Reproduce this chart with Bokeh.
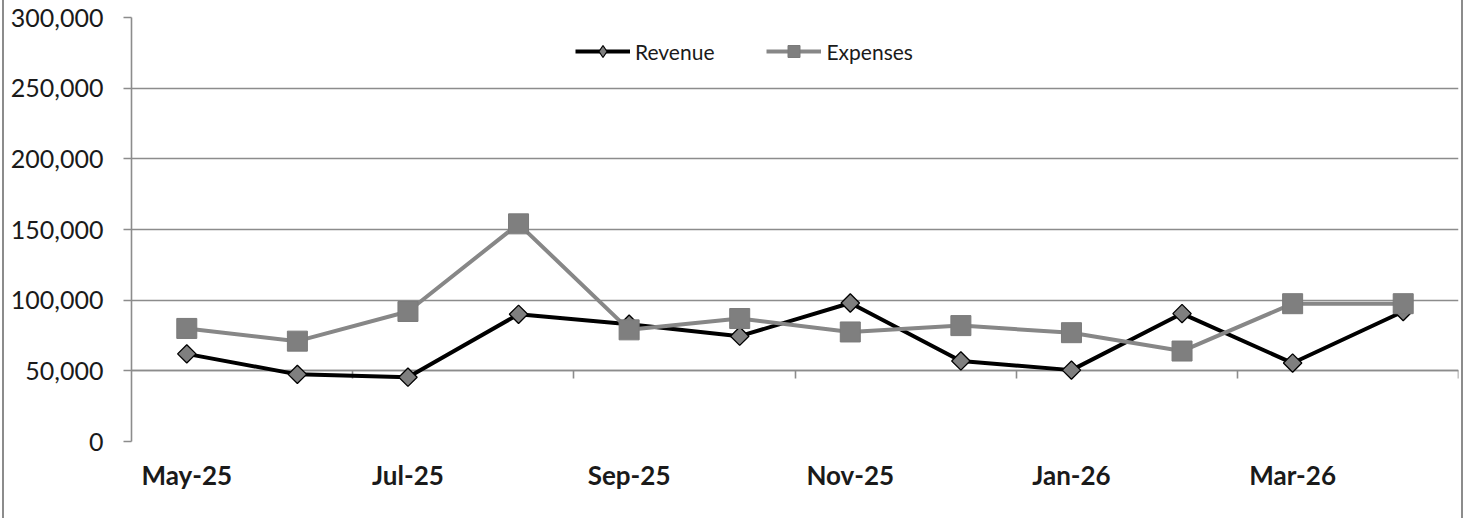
import math
from bokeh.plotting import figure
from bokeh.models import (Range1d, LinearAxis, FixedTicker, NumeralTickFormatter,
                          Legend, LegendItem, ColumnDataSource)
from bokeh.embed import file_html
from bokeh.resources import INLINE

# ---- data ----
months = ["May-25", "Jun-25", "Jul-25", "Aug-25", "Sep-25", "Oct-25",
          "Nov-25", "Dec-25", "Jan-26", "Feb-26", "Mar-26", "Apr-26"]
revenue = [62000, 47500, 45500, 90000, 83000, 74500,
           98000, 57000, 50500, 90500, 55500, 92000]
expenses = [80000, 71000, 92000, 154000, 79000, 87000,
            77500, 82000, 77000, 64000, 97500, 97500]
y_ticks = [0, 50000, 100000, 150000, 200000, 250000, 300000]
y_max = 300000
axis_cross = 50000

GRID = "#8c8c8c"
FONT = "Lato"

xpos = [i + 0.5 for i in range(len(months))]
src = ColumnDataSource(dict(x=xpos, rev=revenue, exp=expenses, m=months))

p = figure(width=1457, height=518,
           x_range=Range1d(0, len(months)), y_range=Range1d(0, y_max),
           output_backend="svg", toolbar_location=None,
           min_border_left=127, min_border_right=7,
           min_border_top=17, min_border_bottom=77,
           styles={"position": "absolute", "left": "2px", "top": "0px",
                   "box-sizing": "content-box",
                   "border-left": "2px solid #8c8c8c",
                   "border-right": "2px solid #8c8c8c"})
p.outline_line_color = None
p.background_fill_color = "white"
p.border_fill_color = "white"

# grid
p.xgrid.visible = False
p.ygrid.ticker = FixedTicker(ticks=y_ticks)
p.ygrid.grid_line_color = GRID
p.ygrid.grid_line_width = 1.6

# y axis
p.yaxis.ticker = FixedTicker(ticks=y_ticks)
p.yaxis.formatter = NumeralTickFormatter(format="0,0")
p.yaxis.axis_line_color = GRID
p.yaxis.axis_line_width = 1.6
p.yaxis.major_tick_line_color = GRID
p.yaxis.major_tick_line_width = 1.6
p.yaxis.major_tick_out = 8
p.yaxis.major_tick_in = 0
p.yaxis.minor_tick_line_color = None
p.yaxis.major_label_standoff = 20
p.yaxis.major_label_text_font = FONT
p.yaxis.major_label_text_font_size = "25px"
p.yaxis.major_label_text_color = "#1a1a1a"

# x axis (labels only)
xa = p.xaxis[0]
label_idx = list(range(0, len(months), 2))
xa.ticker = FixedTicker(ticks=[xpos[i] for i in label_idx])
xa.major_label_overrides = {xpos[i]: months[i] for i in label_idx}
xa.axis_line_color = None
xa.major_tick_line_color = None
xa.minor_tick_line_color = None
xa.major_tick_out = 0
xa.major_label_standoff = 17
xa.major_label_text_font = FONT
xa.major_label_text_font_style = "bold"
xa.major_label_text_font_size = "26px"
xa.major_label_text_color = "#1a1a1a"

# category axis crossing at 50,000 with boundary ticks
bound_ticks = [float(i) for i in range(2, len(months) + 1, 2)]
cross = LinearAxis(fixed_location=axis_cross, ticker=FixedTicker(ticks=bound_ticks),
                   axis_line_color=GRID, axis_line_width=1.6,
                   major_tick_line_color=GRID, major_tick_line_width=1.6,
                   major_tick_out=8, major_tick_in=0,
                   minor_tick_line_color=None,
                   major_label_text_alpha=0, major_label_text_font_size="1px",
                   level="underlay")
p.add_layout(cross, "below")

# series
rev_line = p.line("x", "rev", source=src, line_color="black", line_width=4)
# diamond used for the legend swatch; fully covered by the rotated squares below
rev_leg = p.scatter("x", "rev", source=src, marker="diamond", size=12,
                    fill_color="#7f7f7f", line_color="black", line_width=1.2)
rev_pts = p.scatter("x", "rev", source=src, marker="square", angle=math.pi / 4,
                    size=13, fill_color="#7f7f7f", line_color="black", line_width=1.3)
exp_line = p.line("x", "exp", source=src, line_color="#878787", line_width=4)
exp_pts = p.scatter("x", "exp", source=src, marker="square", size=20,
                    fill_color="#7f7f7f", line_color="#7a7a7a", line_width=1)

legend = Legend(items=[LegendItem(label="Revenue", renderers=[rev_line, rev_leg]),
                       LegendItem(label="Expenses", renderers=[exp_line, exp_pts])],
                location=(444, 375), orientation="horizontal",
                glyph_width=55, glyph_height=30, label_height=30,
                label_standoff=5, spacing=52, padding=0, margin=0,
                border_line_color=None, background_fill_alpha=0,
                label_text_font=FONT, label_text_font_size="21px",
                label_text_color="#1a1a1a")
p.add_layout(legend)

open("out.html", "w").write(file_html(p, INLINE))
